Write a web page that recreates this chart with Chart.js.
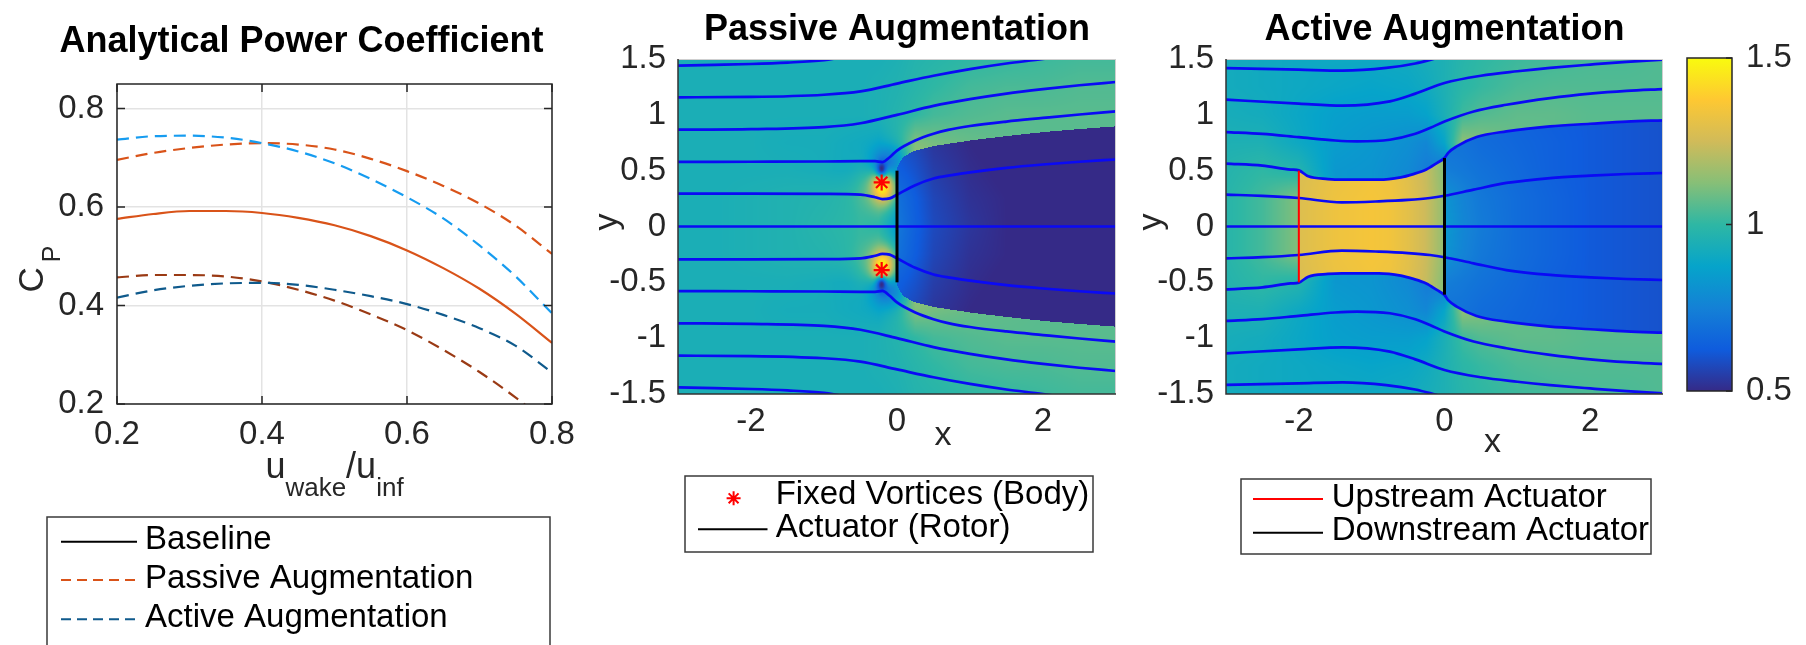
<!DOCTYPE html>
<html><head><meta charset="utf-8">
<script src="https://cdn.jsdelivr.net/npm/chart.js@4.4.1/dist/chart.umd.min.js"></script>
<style>
html,body{margin:0;padding:0;background:#fff;}
#wrap{position:relative;width:1806px;height:645px;overflow:hidden;background:#fff;}
#wrap canvas{position:absolute;left:0;top:0;}
</style></head><body>
<div id="wrap">
<canvas id="c1" width="1806" height="645"></canvas>
<canvas id="c2" width="1806" height="645"></canvas>
<canvas id="c3" width="1806" height="645"></canvas>
<canvas id="c4" width="1806" height="645"></canvas>
</div>
<script>
// ================= DATA =================
// Panel 1: analytical power coefficient
const uWake          = [0.20,0.25,0.30,0.35,0.40,0.45,0.50,0.55,0.60,0.65,0.70,0.75,0.80];
const cpBaseline     = [0.576,0.586,0.592,0.592,0.588,0.578,0.563,0.541,0.512,0.476,0.434,0.383,0.324];
const cpPassiveHigh  = [0.696,0.710,0.720,0.727,0.730,0.727,0.717,0.698,0.673,0.643,0.607,0.562,0.505];
const cpPassiveLow   = [0.457,0.462,0.462,0.459,0.449,0.432,0.410,0.382,0.350,0.310,0.265,0.213,0.155];
const cpActiveHigh   = [0.737,0.744,0.745,0.741,0.730,0.713,0.689,0.657,0.620,0.577,0.522,0.459,0.384];
const cpActiveLow    = [0.416,0.431,0.440,0.445,0.446,0.442,0.432,0.419,0.403,0.381,0.354,0.318,0.264];
const p1XTicks = [0.2,0.4,0.6,0.8];
const p1YTicks = [0.2,0.4,0.6,0.8];
const p1Legend = ['Baseline','Passive Augmentation','Active Augmentation'];

// Panels 2/3: flow fields
const fieldXTicks = [-2,0,2];
const fieldYTicks = [-1.5,-1,-0.5,0,0.5,1,1.5];
const cbTicks = [0.5,1,1.5];
const cbMin = 0.5, cbMax = 1.5;

// Passive streamlines (x, y)
const pS1x = [-3,-2.5,-2,-1.5,-1,-0.8];
const pS1y = [1.44,1.447,1.455,1.468,1.49,1.51];
const pS2x = [-3,-2,-1,-0.5,0,0.5,1,1.5,2,2.2];
const pS2y = [1.157,1.16,1.18,1.21,1.28,1.35,1.41,1.46,1.5,1.52];
const pS3x = [-3,-2,-1,-0.5,0,0.5,1,1.5,2,2.5,3];
const pS3y = [0.867,0.872,0.89,0.925,1.0,1.08,1.14,1.19,1.23,1.265,1.294];
const pS4x = [-3,-2,-1,-0.5,-0.3,-0.2,-0.1,0,0.25,0.5,0.7,1,1.5,2,2.5,3];
const pS4y = [0.578,0.58,0.582,0.585,0.585,0.577,0.62,0.68,0.77,0.83,0.865,0.9,0.94,0.972,1.003,1.031];
const pS5x = [-3,-2,-1,-0.5,-0.3,-0.2,-0.1,0,0.25,0.5,0.75,1,1.5,2,2.5,3];
const pS5y = [0.294,0.294,0.292,0.285,0.262,0.246,0.252,0.285,0.37,0.43,0.46,0.485,0.525,0.555,0.58,0.6];
const pS0x = [-3,3];
const pS0y = [0,0];
const pS6y = [-0.294,-0.294,-0.292,-0.285,-0.262,-0.246,-0.252,-0.285,-0.37,-0.43,-0.46,-0.485,-0.525,-0.555,-0.58,-0.6];
const pS7y = [-0.578,-0.58,-0.582,-0.585,-0.585,-0.577,-0.62,-0.68,-0.77,-0.83,-0.865,-0.9,-0.94,-0.972,-1.003,-1.031];
const pS8y = [-0.867,-0.872,-0.89,-0.925,-1.0,-1.08,-1.14,-1.19,-1.23,-1.265,-1.294];
const pS9y = [-1.157,-1.16,-1.18,-1.21,-1.28,-1.35,-1.41,-1.46,-1.5,-1.52];
const pS10y = [-1.44,-1.447,-1.455,-1.468,-1.49,-1.51];
const pActX = [0,0], pActY = [-0.5,0.5];
const vortexX = [-0.21,-0.21], vortexY = [0.395,-0.39];
// passive wake edge (dividing streamline), |y|
const pWakeX = [0,0.05,0.1,0.25,0.5,1,1.5,2,2.5,3];
const pWakeY = [0.52,0.59,0.63,0.68,0.72,0.77,0.81,0.845,0.873,0.897];

// Active streamlines
const aS1x = [-3,-2.5,-2,-1.4,-0.8,-0.4,-0.1];
const aS1y = [1.419,1.412,1.405,1.396,1.42,1.46,1.51];
const aS2x = [-3,-2,-1.4,-0.75,-0.4,0,0.5,1,1.45,2,2.5,3];
const aS2y = [1.136,1.1,1.082,1.12,1.19,1.285,1.35,1.39,1.42,1.45,1.475,1.494];
const aS3x = [-3,-2.5,-2,-1.5,-1.2,-0.75,-0.4,-0.2,0,0.4,0.85,1.45,2,2.5,3];
const aS3y = [0.846,0.83,0.8,0.77,0.762,0.777,0.83,0.882,0.94,1.03,1.09,1.15,1.19,1.215,1.231];
const aS4x = [-3,-2.5,-2.11,-2,-1.87,-1.6,-1.41,-0.9,-0.6,-0.44,-0.25,-0.1,0,0.05,0.167,0.44,0.85,1.45,2,2.5,3];
const aS4y = [0.563,0.545,0.51,0.503,0.449,0.425,0.419,0.419,0.44,0.467,0.51,0.57,0.613,0.66,0.717,0.801,0.852,0.897,0.92,0.94,0.951];
const aS5x = [-3,-2.5,-2,-1.41,-0.9,-0.5,-0.2,0,0.4,0.85,1.45,2,2.5,3];
const aS5y = [0.285,0.275,0.255,0.216,0.225,0.238,0.255,0.275,0.33,0.39,0.434,0.455,0.47,0.479];
const aS0x = [-3,3];
const aS0y = [0,0];
const aS6y = [-0.285,-0.275,-0.255,-0.216,-0.225,-0.238,-0.255,-0.275,-0.33,-0.39,-0.434,-0.455,-0.47,-0.479];
const aS7y = [-0.563,-0.545,-0.51,-0.503,-0.449,-0.425,-0.419,-0.419,-0.44,-0.467,-0.51,-0.57,-0.613,-0.66,-0.717,-0.801,-0.852,-0.897,-0.92,-0.94,-0.951];
const aS8y = [-0.846,-0.83,-0.8,-0.77,-0.762,-0.777,-0.83,-0.882,-0.94,-1.03,-1.09,-1.15,-1.19,-1.215,-1.231];
const aS9y = [-1.136,-1.1,-1.082,-1.12,-1.19,-1.285,-1.35,-1.39,-1.42,-1.45,-1.475,-1.494];
const aS10y = [-1.419,-1.412,-1.405,-1.396,-1.42,-1.46,-1.51];
const aUpX = [-2,-2], aUpY = [-0.5,0.5];
const aDownX = [0,0], aDownY = [-0.61,0.613];

// Velocity-magnitude fields (value grids, rows by |y|)
const fieldGX = [-3,-2.5,-2,-1.5,-1,-0.5,-0.25,0,0.25,0.5,1,1.5,2,2.5,3];
const fieldGY = [0,0.25,0.5,0.75,1,1.25,1.5];
const passiveOuter = [
  [0.94,0.94,0.95,0.96,0.98,1.00,0.96,0.80,1.10,1.10,1.08,1.07,1.06,1.06,1.06],
  [0.94,0.94,0.95,0.96,0.97,0.99,0.98,0.80,1.10,1.10,1.08,1.07,1.06,1.06,1.06],
  [0.94,0.94,0.94,0.94,0.93,0.90,0.85,0.85,1.18,1.15,1.10,1.08,1.07,1.06,1.06],
  [0.94,0.94,0.94,0.93,0.93,0.91,0.90,0.98,1.12,1.10,1.08,1.07,1.06,1.06,1.06],
  [0.94,0.94,0.94,0.94,0.94,0.94,0.95,0.97,1.00,1.03,1.05,1.06,1.06,1.06,1.06],
  [0.94,0.94,0.94,0.94,0.94,0.94,0.95,0.96,0.98,1.00,1.03,1.04,1.04,1.05,1.05],
  [0.94,0.94,0.94,0.94,0.94,0.94,0.94,0.95,0.97,0.98,1.00,1.01,1.02,1.03,1.03]
];
const passiveInnerX = [0,0.25,0.5,1,1.5,2,3];
const passiveInnerY = [0,0.25,0.5,0.75,1];
const passiveInner = [
  [0.72,0.64,0.58,0.53,0.50,0.47,0.45],
  [0.70,0.63,0.57,0.52,0.50,0.47,0.45],
  [0.64,0.60,0.55,0.51,0.49,0.47,0.45],
  [0.60,0.57,0.53,0.50,0.48,0.46,0.45],
  [0.58,0.55,0.52,0.50,0.48,0.46,0.45]
];
// local features near the fixed vortices (value, centre, spread in data units)
const spotX  = [-0.2,-0.2,-0.15,-0.15,-0.2,-0.2,-0.21,-0.21];
const spotY  = [0.36,-0.36,0.57,-0.57,0.36,-0.36,0.52,-0.52];
const spotV  = [1.15,1.15,0.7,0.7,1.5,1.5,0.5,0.5];
const spotSX = [0.3,0.3,0.22,0.22,0.13,0.13,0.075,0.075];
const spotSY = [0.24,0.24,0.15,0.15,0.13,0.13,0.07,0.07];

const activeOuter = [
  [0.98,1.03,1.12,0.83,0.82,0.78,0.73,0.70,1.15,1.12,1.08,1.07,1.06,1.06,1.06],
  [0.98,1.03,1.12,0.83,0.82,0.78,0.73,0.70,1.15,1.12,1.08,1.07,1.06,1.06,1.06],
  [0.97,1.00,0.97,0.83,0.82,0.78,0.73,0.70,1.18,1.15,1.10,1.08,1.07,1.06,1.06],
  [0.95,0.95,0.90,0.85,0.83,0.80,0.77,0.88,1.14,1.12,1.08,1.07,1.06,1.06,1.06],
  [0.93,0.92,0.89,0.86,0.85,0.85,0.87,0.94,1.02,1.05,1.07,1.07,1.06,1.06,1.06],
  [0.92,0.91,0.90,0.89,0.88,0.89,0.91,0.95,0.99,1.01,1.04,1.05,1.05,1.05,1.05],
  [0.92,0.91,0.90,0.90,0.90,0.91,0.93,0.95,0.98,1.00,1.02,1.03,1.04,1.04,1.05]
];
const activeInnerX = [-2,-1.5,-1,-0.75,-0.5,-0.25,-0.001,0.001,0.25,0.5,1,1.5,2,3];
const activeInnerY = [0,0.25,0.5,0.75,1];
const activeInner = [
  [1.28,1.33,1.35,1.34,1.30,1.24,1.14,0.84,0.77,0.73,0.68,0.65,0.62,0.60],
  [1.28,1.33,1.35,1.34,1.30,1.24,1.14,0.82,0.76,0.72,0.68,0.65,0.62,0.60],
  [1.27,1.32,1.34,1.33,1.29,1.23,1.12,0.74,0.72,0.70,0.67,0.64,0.62,0.60],
  [1.27,1.32,1.34,1.33,1.29,1.23,1.12,0.70,0.70,0.68,0.66,0.64,0.62,0.60],
  [1.27,1.32,1.34,1.33,1.29,1.23,1.12,0.70,0.69,0.67,0.65,0.63,0.62,0.60]
];

// ================= HELPERS =================
const FONT = '"Liberation Sans", Arial, Helvetica, sans-serif';
Chart.defaults.font.family = FONT;
Chart.defaults.color = '#262626';
const parulaStops = ['#352a87','#0f5cdd','#1481d6','#06a4ca','#2eb7a4','#87bf77','#d1bb59','#fec832','#f9fb0e'];
const parulaRGB = parulaStops.map(h => [parseInt(h.substr(1,2),16),parseInt(h.substr(3,2),16),parseInt(h.substr(5,2),16)]);
function parula(v){
  let t = (v - cbMin)/(cbMax - cbMin); t = Math.max(0, Math.min(1, t));
  const s = t*(parulaRGB.length-1); const i = Math.min(parulaRGB.length-2, Math.floor(s)); const f = s - i;
  const a = parulaRGB[i], b = parulaRGB[i+1];
  return [a[0]+(b[0]-a[0])*f, a[1]+(b[1]-a[1])*f, a[2]+(b[2]-a[2])*f];
}
function seg(arr, v){ let i=0; const n=arr.length-2; while(i<n && v>arr[i+1]) i++; return i; }
function interp1(xs, ys, x){
  if (x <= xs[0]) return ys[0];
  if (x >= xs[xs.length-1]) return ys[ys.length-1];
  const i = seg(xs, x); const t = (x-xs[i])/(xs[i+1]-xs[i]); return ys[i]+t*(ys[i+1]-ys[i]);
}
function bilinear(gx, gy, rows, x, y){
  const i = seg(gx, x), j = seg(gy, y);
  const tx = Math.max(0, Math.min(1, (x-gx[i])/(gx[i+1]-gx[i])));
  const ty = Math.max(0, Math.min(1, (y-gy[j])/(gy[j+1]-gy[j])));
  const a = rows[j][i], b = rows[j][i+1], c = rows[j+1][i], d = rows[j+1][i+1];
  return (a*(1-tx)+b*tx)*(1-ty) + (c*(1-tx)+d*tx)*ty;
}
function pts(xs, ys){ return xs.map((x,i)=>({x:x, y:ys[i]})); }
function curve(xs, ys, color, width, dash){
  return { data: pts(xs,ys), showLine:true, borderColor:color, backgroundColor:color, borderWidth:width,
    borderDash: dash || [], pointRadius:0, pointHoverRadius:0, tension:0.4, cubicInterpolationMode:'monotone', clip:0, fill:false };
}
function straight(xs, ys, color, width){
  return { data: pts(xs,ys), showLine:true, borderColor:color, backgroundColor:color, borderWidth:width,
    pointRadius:0, pointHoverRadius:0, tension:0, clip:0, fill:false };
}
function txt(ctx, s, x, y, size, o){
  o = o || {};
  ctx.save(); ctx.font = (o.bold?'bold ':'') + size + 'px ' + FONT; ctx.fillStyle = o.color || '#000';
  ctx.textAlign = o.align || 'left'; ctx.textBaseline = o.baseline || 'middle'; ctx.fillText(s, x, y); ctx.restore();
}
function legendBox(ctx, l, t, r, b){
  ctx.save(); ctx.fillStyle='#fff'; ctx.fillRect(l,t,r-l,b-t);
  ctx.strokeStyle='#3a3a3a'; ctx.lineWidth=1.5; ctx.strokeRect(l,t,r-l,b-t); ctx.restore();
}
function legendLine(ctx, x1, x2, y, color, width, dash){
  ctx.save(); ctx.strokeStyle=color; ctx.lineWidth=width; ctx.setLineDash(dash||[]);
  ctx.beginPath(); ctx.moveTo(x1,y); ctx.lineTo(x2,y); ctx.stroke(); ctx.restore();
}
function asterisk(ctx, x, y, r, color){
  ctx.save(); ctx.strokeStyle=color; ctx.lineWidth=2; ctx.beginPath();
  for (let k=0;k<4;k++){ const a = k*Math.PI/4; ctx.moveTo(x-r*Math.cos(a), y-r*Math.sin(a)); ctx.lineTo(x+r*Math.cos(a), y+r*Math.sin(a)); }
  ctx.stroke(); ctx.restore();
}
const TICK = 33;
function fixedTicks(arr){ return s => { s.ticks = arr.map(v => ({value:v})); }; }

// ================= PANEL 1 =================
const P1_COLORS = { base:'#D95319', pHigh:'#D95319', pLow:'#9A3A14', aHigh:'#169CF0', aLow:'#0F5A8C' };
const DASH = [12,7];
const p1Overlay = {
  id:'p1overlay',
  afterDraw(chart){
    const {ctx, chartArea:a, scales:{x, y}} = chart;
    ctx.save(); ctx.strokeStyle='#262626'; ctx.lineWidth=1.5; ctx.beginPath();
    p1XTicks.forEach(v => { const px = x.getPixelForValue(v); ctx.moveTo(px,a.bottom); ctx.lineTo(px,a.bottom-8); ctx.moveTo(px,a.top); ctx.lineTo(px,a.top+8); });
    p1YTicks.forEach(v => { const py = y.getPixelForValue(v); ctx.moveTo(a.left,py); ctx.lineTo(a.left+8,py); ctx.moveTo(a.right,py); ctx.lineTo(a.right-8,py); });
    ctx.stroke(); ctx.strokeRect(a.left, a.top, a.right-a.left, a.bottom-a.top); ctx.restore();
    // title
    txt(ctx, 'Analytical Power Coefficient', (a.left+a.right)/2 - 33, 42, 36, {bold:true, align:'center'});
    // y label C_P
    ctx.save(); ctx.translate(42.5, 269); ctx.rotate(-Math.PI/2);
    ctx.font = '35px ' + FONT; const wC = ctx.measureText('C').width;
    ctx.font = '25px ' + FONT; const wP = ctx.measureText('P').width;
    const gap = 5;
    const sx = -(wC+wP+gap)/2; ctx.fillStyle='#262626'; ctx.textBaseline='alphabetic';
    ctx.font = '35px ' + FONT; ctx.fillText('C', sx, 0);
    ctx.font = '25px ' + FONT; ctx.fillText('P', sx+wC+gap, 17);
    ctx.restore();
    // x label u_wake/u_inf
    ctx.save(); ctx.fillStyle='#262626'; ctx.textBaseline='alphabetic';
    const parts = [['u',36,0],['wake',26,18],['/u',36,0],['inf',26,18]];
    let tot = 0; parts.forEach(p => { ctx.font = p[1]+'px '+FONT; tot += ctx.measureText(p[0]).width; });
    let cx = (a.left+a.right)/2 - tot/2;
    parts.forEach(p => { ctx.font = p[1]+'px '+FONT; ctx.fillText(p[0], cx, 478 + p[2]); cx += ctx.measureText(p[0]).width; });
    ctx.restore();
    // legend
    legendBox(ctx, 47, 517, 550, 700);
    const rows = [541.7, 580, 619.3];
    legendLine(ctx, 61, 137, rows[0], '#000', 2, []);
    legendLine(ctx, 61, 137, rows[1], P1_COLORS.pHigh, 2, [10,6]);
    legendLine(ctx, 61, 137, rows[2], P1_COLORS.aLow, 2, [10,6]);
    p1Legend.forEach((s,i) => txt(ctx, s, 145, rows[i]-1.5, 33));
  }
};
new Chart(document.getElementById('c1'), {
  type:'scatter',
  data:{ datasets:[
    curve(uWake, cpActiveHigh, P1_COLORS.aHigh, 2.2, DASH),
    curve(uWake, cpActiveLow, P1_COLORS.aLow, 2.2, DASH),
    curve(uWake, cpPassiveHigh, P1_COLORS.pHigh, 2.2, DASH),
    curve(uWake, cpPassiveLow, P1_COLORS.pLow, 2.2, DASH),
    curve(uWake, cpBaseline, P1_COLORS.base, 2.2)
  ]},
  options:{
    responsive:false, animation:false, devicePixelRatio:1, events:[],
    layout:{ padding:{ left:117-80, right:1806-552, top:84, bottom:645-404-60 } },
    plugins:{ legend:{display:false}, tooltip:{enabled:false}, title:{display:false} },
    scales:{
      x:{ type:'linear', min:0.2, max:0.8, afterBuildTicks: fixedTicks(p1XTicks), afterFit: s => { s.height = 60; },
          ticks:{ font:{size:TICK}, color:'#262626', padding:11, maxRotation:0, callback: v => String(v) },
          grid:{ color:'#e3e3e3', lineWidth:1.5, drawTicks:false }, border:{display:false} },
      y:{ type:'linear', min:0.2, max:0.85, afterBuildTicks: fixedTicks(p1YTicks), afterFit: s => { s.width = 80; },
          ticks:{ font:{size:TICK}, color:'#262626', padding:13, callback: v => String(v) },
          grid:{ color:'#e3e3e3', lineWidth:1.5, drawTicks:false }, border:{display:false} }
    }
  },
  plugins:[p1Overlay]
});

// ================= FIELD PANELS =================
function fieldPlugin(cfg){
  return {
    id:'field',
    beforeDatasetsDraw(chart){
      const {ctx, chartArea:a, scales:{x:sx, y:sy}} = chart;
      const L = Math.round(a.left), T = Math.round(a.top), W = Math.round(a.right)-L, H = Math.round(a.bottom)-T;
      const off = document.createElement('canvas'); off.width = W; off.height = H;
      const octx = off.getContext('2d'); const img = octx.createImageData(W, H); const d = img.data;
      const xs = []; for (let px=0; px<W; px++) xs.push(sx.getValueForPixel(L+px+0.5));
      const bnd = xs.map(x => x >= cfg.innerStart ? interp1(cfg.bX, cfg.bY, x) : -1);
      for (let py=0; py<H; py++){
        const y = sy.getValueForPixel(T+py+0.5), ay = Math.abs(y);
        for (let px=0; px<W; px++){
          const x = xs[px]; let v;
          if (ay < bnd[px]) v = bilinear(cfg.iX, cfg.iY, cfg.inner, x, ay);
          else {
            v = bilinear(fieldGX, fieldGY, cfg.outer, x, ay);
            if (cfg.spots){
              for (let k=0;k<spotX.length;k++){
                const dx = (x-spotX[k])/spotSX[k], dy = (y-spotY[k])/spotSY[k];
                const q = dx*dx+dy*dy; if (q < 9){ const w = Math.exp(-q); v = v + (spotV[k]-v)*w; }
              }
            }
          }
          const c = parula(v); const o = (py*W+px)*4;
          d[o]=c[0]; d[o+1]=c[1]; d[o+2]=c[2]; d[o+3]=255;
        }
      }
      octx.putImageData(img,0,0); ctx.drawImage(off, L, T);
    },
    afterDatasetsDraw(chart){
      const {ctx, chartArea:a} = chart;
      ctx.save(); ctx.lineWidth=1;
      ctx.strokeStyle='#cfcfcf'; ctx.beginPath(); ctx.moveTo(a.left, a.top+0.5); ctx.lineTo(a.right, a.top+0.5); ctx.moveTo(a.right-0.5, a.top); ctx.lineTo(a.right-0.5, a.bottom); ctx.stroke();
      ctx.strokeStyle='#333'; ctx.lineWidth=1.5; ctx.beginPath(); ctx.moveTo(a.left, a.top); ctx.lineTo(a.left, a.bottom); ctx.lineTo(a.right, a.bottom); ctx.stroke();
      ctx.restore();
    }
  };
}
function fieldScales(){
  return {
    x:{ type:'linear', min:-3, max:3, afterBuildTicks: fixedTicks(fieldXTicks), afterFit: s => { s.height = 60; },
        ticks:{ font:{size:TICK}, color:'#262626', padding:8, maxRotation:0, callback: v => String(v) },
        grid:{ display:false, drawTicks:false }, border:{display:false} },
    y:{ type:'linear', min:-1.5, max:1.5, afterBuildTicks: fixedTicks(fieldYTicks), afterFit: s => { s.width = 70; },
        ticks:{ font:{size:TICK}, color:'#262626', padding:12, callback: v => String(v) },
        grid:{ display:false, drawTicks:false }, border:{display:false} }
  };
}
const SL = '#0a0af5', SLW = 2.7;

// Panel 2: passive
const p2Text = {
  id:'p2text',
  afterDraw(chart){
    const {ctx, chartArea:a} = chart;
    txt(ctx, 'Passive Augmentation', (a.left+a.right)/2, 30, 36, {bold:true, align:'center'});
    ctx.save(); ctx.translate(617, 222); ctx.rotate(-Math.PI/2); ctx.font='34px '+FONT; ctx.fillStyle='#262626';
    ctx.textAlign='center'; ctx.textBaseline='alphabetic'; ctx.fillText('y', 0, 0); ctx.restore();
    txt(ctx, 'x', 943, 445, 34, {align:'center', baseline:'alphabetic', color:'#262626'});
    legendBox(ctx, 685, 476, 1093, 552);
    asterisk(ctx, 733.6, 498.3, 7, '#FF0000');
    txt(ctx, 'Fixed Vortices (Body)', 775.7, 495, 33);
    legendLine(ctx, 698, 767.5, 529.3, '#000', 2, []);
    txt(ctx, 'Actuator (Rotor)', 775.7, 528, 33);
  }
};
new Chart(document.getElementById('c2'), {
  type:'scatter',
  data:{ datasets:[
    { data: pts(vortexX, vortexY), pointStyle:'star', pointRadius:8, borderColor:'#FF0000', backgroundColor:'#FF0000', borderWidth:2.2, showLine:false, clip:0 },
    straight(pActX, pActY, '#000', 3),
    curve(pS0x, pS0y, SL, SLW),
    curve(pS1x, pS1y, SL, SLW), curve(pS2x, pS2y, SL, SLW), curve(pS3x, pS3y, SL, SLW),
    curve(pS4x, pS4y, SL, SLW), curve(pS5x, pS5y, SL, SLW),
    curve(pS5x, pS6y, SL, SLW), curve(pS4x, pS7y, SL, SLW), curve(pS3x, pS8y, SL, SLW),
    curve(pS2x, pS9y, SL, SLW), curve(pS1x, pS10y, SL, SLW)
  ]},
  options:{
    responsive:false, animation:false, devicePixelRatio:1, events:[],
    layout:{ padding:{ left:678-70, right:1806-1116, top:59, bottom:645-394-60 } },
    plugins:{ legend:{display:false}, tooltip:{enabled:false} },
    scales: fieldScales()
  },
  plugins:[ fieldPlugin({ outer:passiveOuter, inner:passiveInner, iX:passiveInnerX, iY:passiveInnerY, bX:pWakeX, bY:pWakeY, innerStart:0, spots:true }), p2Text ]
});

// Panel 3: active
const p3Text = {
  id:'p3text',
  afterDraw(chart){
    const {ctx, chartArea:a} = chart;
    txt(ctx, 'Active Augmentation', (a.left+a.right)/2, 30, 36, {bold:true, align:'center'});
    ctx.save(); ctx.translate(1161, 222); ctx.rotate(-Math.PI/2); ctx.font='34px '+FONT; ctx.fillStyle='#262626';
    ctx.textAlign='center'; ctx.textBaseline='alphabetic'; ctx.fillText('y', 0, 0); ctx.restore();
    txt(ctx, 'x', 1492.5, 451.7, 34, {align:'center', baseline:'alphabetic', color:'#262626'});
    legendBox(ctx, 1241, 479, 1651, 554);
    legendLine(ctx, 1253, 1323, 499, '#FF0000', 2, []);
    txt(ctx, 'Upstream Actuator', 1331.7, 497.5, 33);
    legendLine(ctx, 1253, 1323, 532.7, '#000', 2, []);
    txt(ctx, 'Downstream Actuator', 1331.7, 530.8, 33);
  }
};
new Chart(document.getElementById('c3'), {
  type:'scatter',
  data:{ datasets:[
    straight(aUpX, aUpY, '#FF0000', 2),
    straight(aDownX, aDownY, '#000', 3),
    curve(aS0x, aS0y, SL, SLW),
    curve(aS1x, aS1y, SL, SLW), curve(aS2x, aS2y, SL, SLW), curve(aS3x, aS3y, SL, SLW),
    curve(aS4x, aS4y, SL, SLW), curve(aS5x, aS5y, SL, SLW),
    curve(aS5x, aS6y, SL, SLW), curve(aS4x, aS7y, SL, SLW), curve(aS3x, aS8y, SL, SLW),
    curve(aS2x, aS9y, SL, SLW), curve(aS1x, aS10y, SL, SLW)
  ]},
  options:{
    responsive:false, animation:false, devicePixelRatio:1, events:[],
    layout:{ padding:{ left:1226-70, right:1806-1663, top:59, bottom:645-394-60 } },
    plugins:{ legend:{display:false}, tooltip:{enabled:false} },
    scales: fieldScales()
  },
  plugins:[ fieldPlugin({ outer:activeOuter, inner:activeInner, iX:activeInnerX, iY:activeInnerY, bX:aS4x, bY:aS4y, innerStart:-2, spots:false }), p3Text ]
});

// ================= COLORBAR =================
const cbFrame = {
  id:'cbframe',
  afterDraw(chart){
    const {ctx, chartArea:a, scales:{y}} = chart;
    ctx.save(); ctx.strokeStyle='#262626'; ctx.lineWidth=1.5;
    ctx.strokeRect(a.left, a.top, a.right-a.left, a.bottom-a.top);
    ctx.beginPath(); cbTicks.forEach(v => { const py = y.getPixelForValue(v); ctx.moveTo(a.right, py); ctx.lineTo(a.right-6, py); }); ctx.stroke();
    ctx.restore();
  }
};
new Chart(document.getElementById('c4'), {
  type:'bar',
  data:{ labels:[''], datasets:[{
    data:[[cbMin, cbMax]], borderWidth:0, barPercentage:1, categoryPercentage:1,
    backgroundColor: c => {
      const ch = c.chart; if (!ch.chartArea) return '#888';
      const ys = ch.scales.y; const g = ch.ctx.createLinearGradient(0, ys.getPixelForValue(cbMin), 0, ys.getPixelForValue(cbMax));
      parulaStops.forEach((col,i) => g.addColorStop(i/(parulaStops.length-1), col)); return g;
    }
  }]},
  options:{
    responsive:false, animation:false, devicePixelRatio:1, events:[],
    layout:{ padding:{ left:1687, right:1806-1732-70, top:58, bottom:645-391 } },
    plugins:{ legend:{display:false}, tooltip:{enabled:false} },
    scales:{
      x:{ display:false },
      y:{ position:'right', min:cbMin, max:cbMax, afterBuildTicks: fixedTicks(cbTicks), afterFit: s => { s.width = 70; },
          ticks:{ font:{size:TICK}, color:'#262626', padding:14, callback: v => String(v) },
          grid:{ display:false, drawTicks:false }, border:{display:false} }
    }
  },
  plugins:[cbFrame]
});
</script>
</body></html>
